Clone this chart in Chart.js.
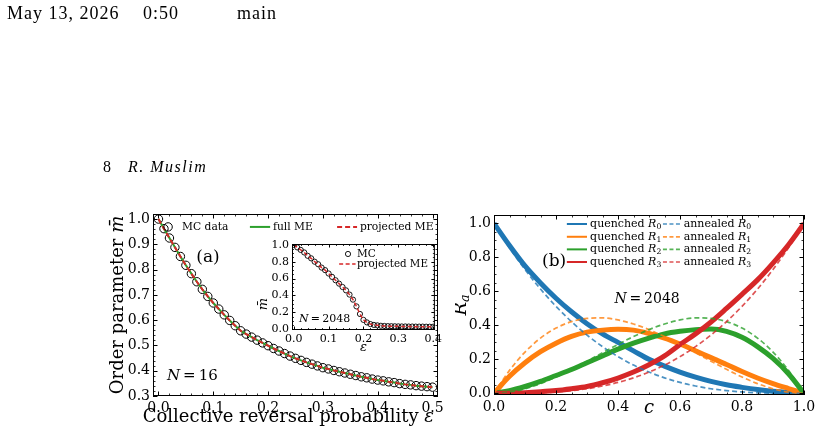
<!DOCTYPE html>
<html>
<head>
<meta charset="utf-8">
<script src="https://cdn.jsdelivr.net/npm/chart.js@4.4.1/dist/chart.umd.min.js"></script>
<style>
  html, body { margin: 0; padding: 0; background: #fff; }
  body { width: 821px; height: 435px; position: relative; overflow: hidden; }
  canvas { position: absolute; }
  .hdr { position: absolute; font-family: 'Liberation Serif', serif; color: #000; white-space: pre; line-height: 18px; }
</style>
</head>
<body>
<canvas id="chartA" width="455" height="435" style="left:0;top:0"></canvas>
<canvas id="inset" width="205" height="130" style="left:240px;top:230px"></canvas>
<canvas id="chartB" width="366" height="435" style="left:455px;top:0"></canvas>
<div class="hdr" style="left:7px;top:4px;font-size:18px;letter-spacing:1px">May 13, 2026</div>
<div class="hdr" style="left:143px;top:4px;font-size:18px;letter-spacing:1px">0:50</div>
<div class="hdr" style="left:237px;top:4px;font-size:18px;letter-spacing:1px">main</div>
<div class="hdr" style="left:103px;top:158px;font-size:16px">8</div>
<div class="hdr" style="left:128px;top:158px;font-size:16px;font-style:italic;letter-spacing:1.5px">R. Muslim</div>
<script>
// panel (a): N = 16
const epsA = [0.00, 0.01, 0.02, 0.03, 0.04, 0.05, 0.06, 0.07, 0.08, 0.09,
  0.10, 0.11, 0.12, 0.13, 0.14, 0.15, 0.16, 0.17, 0.18, 0.19,
  0.20, 0.21, 0.22, 0.23, 0.24, 0.25, 0.26, 0.27, 0.28, 0.29,
  0.30, 0.31, 0.32, 0.33, 0.34, 0.35, 0.36, 0.37, 0.38, 0.39,
  0.40, 0.41, 0.42, 0.43, 0.44, 0.45, 0.46, 0.47, 0.48, 0.49, 0.50];
const mcA = [1.000, 0.962, 0.925, 0.888, 0.852, 0.817, 0.784, 0.752, 0.722, 0.694,
  0.668, 0.644, 0.621, 0.599, 0.578, 0.558, 0.545, 0.533, 0.521, 0.510,
  0.499, 0.488, 0.478, 0.468, 0.458, 0.449, 0.441, 0.433, 0.426, 0.419,
  0.412, 0.407, 0.401, 0.396, 0.391, 0.386, 0.381, 0.376, 0.372, 0.367,
  0.363, 0.360, 0.356, 0.353, 0.349, 0.346, 0.344, 0.341, 0.339, 0.337, 0.335];
const meA = [1.000, 0.962, 0.925, 0.888, 0.852, 0.817, 0.784, 0.752, 0.722, 0.694,
  0.668, 0.644, 0.621, 0.599, 0.578, 0.558, 0.545, 0.533, 0.521, 0.510,
  0.499, 0.488, 0.478, 0.468, 0.458, 0.449, 0.441, 0.433, 0.426, 0.419,
  0.412, 0.407, 0.401, 0.396, 0.391, 0.386, 0.381, 0.376, 0.372, 0.367,
  0.363, 0.360, 0.356, 0.353, 0.349, 0.346, 0.344, 0.341, 0.339, 0.337, 0.335];
const xTicksA = [0.0, 0.1, 0.2, 0.3, 0.4, 0.5];
const yTicksA = [0.3, 0.4, 0.5, 0.6, 0.7, 0.8, 0.9, 1.0];

// inset: N = 2048
const epsIn = [0.00, 0.01, 0.02, 0.03, 0.04, 0.05, 0.06, 0.07, 0.08, 0.09,
  0.10, 0.11, 0.12, 0.13, 0.14, 0.15, 0.16, 0.17, 0.18, 0.19,
  0.20, 0.21, 0.22, 0.23, 0.24, 0.25, 0.26, 0.27, 0.28, 0.29,
  0.30, 0.31, 0.32, 0.33, 0.34, 0.35, 0.36, 0.37, 0.38, 0.39, 0.40];
const mcIn = [1.00, 0.97, 0.94, 0.91, 0.87, 0.84, 0.80, 0.77, 0.73, 0.70,
  0.66, 0.62, 0.58, 0.54, 0.50, 0.46, 0.41, 0.35, 0.27, 0.18,
  0.11, 0.08, 0.06, 0.05, 0.045, 0.040, 0.038, 0.036, 0.035, 0.034,
  0.033, 0.032, 0.032, 0.031, 0.031, 0.030, 0.030, 0.030, 0.029, 0.029, 0.029];
const meIn = [1.00, 0.97, 0.94, 0.91, 0.87, 0.84, 0.80, 0.77, 0.73, 0.70,
  0.66, 0.62, 0.58, 0.54, 0.50, 0.46, 0.41, 0.35, 0.27, 0.18,
  0.11, 0.08, 0.06, 0.05, 0.045, 0.040, 0.038, 0.036, 0.035, 0.034,
  0.033, 0.032, 0.032, 0.031, 0.031, 0.030, 0.030, 0.030, 0.029, 0.029, 0.029];
const xTicksIn = [0.0, 0.1, 0.2, 0.3, 0.4];
const yTicksIn = [0.0, 0.2, 0.4, 0.6, 0.8, 1.0];

// panel (b): R_a vs c, N = 2048
const cB = [0.00, 0.05, 0.10, 0.15, 0.20, 0.25, 0.30, 0.35, 0.40, 0.45, 0.50,
  0.55, 0.60, 0.65, 0.70, 0.75, 0.80, 0.85, 0.90, 0.95, 1.00];
const quenchedR0 = [1.00, 0.87, 0.75, 0.65, 0.56, 0.48, 0.41, 0.35, 0.30, 0.25, 0.20,
  0.16, 0.125, 0.095, 0.07, 0.05, 0.035, 0.022, 0.012, 0.005, 0.0];
const quenchedR1 = [0.0, 0.10, 0.18, 0.245, 0.295, 0.335, 0.36, 0.372, 0.377, 0.372, 0.352,
  0.325, 0.29, 0.25, 0.21, 0.17, 0.128, 0.09, 0.057, 0.028, 0.0];
const quenchedR2 = [0.0, 0.015, 0.04, 0.07, 0.105, 0.14, 0.18, 0.22, 0.26, 0.295, 0.325,
  0.35, 0.365, 0.375, 0.378, 0.365, 0.33, 0.275, 0.205, 0.115, 0.0];
const quenchedR3 = [0.0, 0.001, 0.004, 0.009, 0.016, 0.027, 0.04, 0.062, 0.09, 0.125, 0.168,
  0.22, 0.287, 0.35, 0.42, 0.50, 0.583, 0.668, 0.767, 0.875, 1.0];
const annealedR0 = [1.000, 0.857, 0.729, 0.614, 0.512, 0.422, 0.343, 0.275, 0.216, 0.166, 0.125,
  0.091, 0.064, 0.043, 0.027, 0.016, 0.008, 0.003, 0.001, 0.000, 0.000];
const annealedR1 = [0.000, 0.135, 0.243, 0.325, 0.384, 0.422, 0.441, 0.444, 0.432, 0.408, 0.375,
  0.334, 0.288, 0.239, 0.189, 0.141, 0.096, 0.057, 0.027, 0.007, 0.000];
const annealedR2 = [0.000, 0.007, 0.027, 0.057, 0.096, 0.141, 0.189, 0.239, 0.288, 0.334, 0.375,
  0.408, 0.432, 0.444, 0.441, 0.422, 0.384, 0.325, 0.243, 0.135, 0.000];
const annealedR3 = [0.000, 0.000, 0.001, 0.003, 0.008, 0.016, 0.027, 0.043, 0.064, 0.091, 0.125,
  0.166, 0.216, 0.275, 0.343, 0.422, 0.512, 0.614, 0.729, 0.857, 1.000];
const xTicksB = [0.0, 0.2, 0.4, 0.6, 0.8, 1.0];
const yTicksB = [0.0, 0.2, 0.4, 0.6, 0.8, 1.0];

const C0 = '#1f77b4', C1 = '#ff7f0e', C2 = '#2ca02c', C3 = '#d62728';
const C0a = 'rgba(31,119,180,0.8)', C1a = 'rgba(255,127,14,0.8)', C2a = 'rgba(44,160,44,0.8)', C3a = 'rgba(214,39,40,0.8)';
const SERIF = "'DejaVu Serif', serif";

Chart.defaults.font.family = SERIF;
Chart.defaults.color = '#000';

const pts = (xs, ys) => xs.map((x, i) => ({ x, y: ys[i] }));

// text made of runs: plain, italic, subscript
function drawRuns(ctx, x, y, runs, size, align) {
  const parts = runs.map((r) => {
    const s = r.sub ? size * 0.7 : size;
    const font = `${r.it ? 'italic ' : ''}${s}px ${SERIF}`;
    ctx.font = font;
    return { r, font, w: ctx.measureText(r.t).width, dy: r.sub ? size * 0.25 : 0 };
  });
  const total = parts.reduce((acc, p) => acc + p.w, 0);
  let cx = align === 'center' ? x - total / 2 : (align === 'right' ? x - total : x);
  ctx.textAlign = 'left';
  ctx.textBaseline = 'middle';
  parts.forEach((p) => {
    ctx.font = p.font;
    ctx.fillText(p.r.t, cx, y + p.dy);
    cx += p.w;
  });
}

// box, inward ticks on all four sides, texts and legend inside the axes
const axesDeco = {
  id: 'axesDeco',
  beforeDraw(chart, args, opts) {
    if (!opts.fill) return;
    const a = chart.chartArea;
    chart.ctx.save();
    chart.ctx.fillStyle = '#fff';
    chart.ctx.fillRect(a.left, a.top, a.right - a.left, a.bottom - a.top);
    chart.ctx.restore();
  },
  afterDraw(chart, args, opts) {
    const { ctx, chartArea: a, scales } = chart;
    const fx = (f) => a.left + f * (a.right - a.left);
    const fy = (f) => a.bottom - f * (a.bottom - a.top);
    ctx.save();
    ctx.strokeStyle = '#000';
    ctx.lineWidth = 1;
    ctx.strokeRect(a.left + 0.5, a.top + 0.5, a.right - a.left - 1, a.bottom - a.top - 1);

    const tickSet = (scale, nMinor) => {
      const vals = scale.ticks.map((t) => t.value);
      const step = vals[1] - vals[0];
      const minors = [];
      for (let i = -1; i < vals.length; i++) {
        const base = vals[0] + i * step;
        for (let k = 1; k < nMinor; k++) minors.push(base + (k * step) / nMinor);
      }
      return { major: vals, minor: minors.filter((v) => v > scale.min && v < scale.max) };
    };
    const drawX = (vals, len) => vals.forEach((v) => {
      const p = Math.round(scales.x.getPixelForValue(v)) + 0.5;
      ctx.beginPath();
      ctx.moveTo(p, a.bottom); ctx.lineTo(p, a.bottom - len);
      ctx.moveTo(p, a.top); ctx.lineTo(p, a.top + len);
      ctx.stroke();
    });
    const drawY = (vals, len) => vals.forEach((v) => {
      const p = Math.round(scales.y.getPixelForValue(v)) + 0.5;
      ctx.beginPath();
      ctx.moveTo(a.left, p); ctx.lineTo(a.left + len, p);
      ctx.moveTo(a.right, p); ctx.lineTo(a.right - len, p);
      ctx.stroke();
    });
    const tx = tickSet(scales.x, opts.minorX);
    const ty = tickSet(scales.y, opts.minorY);
    ctx.lineWidth = 1;
    drawX(tx.major, opts.major); drawY(ty.major, opts.major);
    ctx.lineWidth = 0.8;
    drawX(tx.minor, opts.minor); drawY(ty.minor, opts.minor);

    (opts.marks || []).forEach((m) => {
      ctx.save();
      ctx.strokeStyle = m.color;
      ctx.lineWidth = m.width;
      ctx.setLineDash(m.dash || []);
      ctx.beginPath();
      if (m.circle) {
        ctx.arc(fx(m.x0), fy(m.y), m.r, 0, Math.PI * 2);
      } else {
        ctx.moveTo(fx(m.x0), fy(m.y)); ctx.lineTo(fx(m.x1), fy(m.y));
      }
      ctx.stroke();
      ctx.restore();
    });

    ctx.fillStyle = '#000';
    (opts.texts || []).forEach((t) => {
      if (t.rot) {
        ctx.save();
        ctx.translate(fx(t.x), fy(t.y));
        ctx.rotate(-Math.PI / 2);
        drawRuns(ctx, 0, 0, t.runs, t.size, 'center');
        ctx.restore();
      } else {
        drawRuns(ctx, fx(t.x), fy(t.y), t.runs, t.size, t.align || 'left');
      }
    });
    ctx.restore();
  },
};

function axis(min, max, ticks, fontSize, padding, fitKey, fitSize) {
  return {
    type: 'linear',
    min, max,
    afterBuildTicks: (s) => { s.ticks = ticks.map((v) => ({ value: v })); },
    afterFit: (s) => { s[fitKey] = fitSize; },
    grid: { display: false, drawTicks: false },
    border: { display: false },
    ticks: {
      font: { size: fontSize, family: SERIF },
      color: '#000',
      padding,
      maxRotation: 0,
      autoSkip: false,
      callback: (v) => Number(v).toFixed(1),
    },
  };
}

const baseOpts = {
  responsive: false,
  animation: false,
  devicePixelRatio: 1,
  events: [],
};

// panel (a)
new Chart(document.getElementById('chartA'), {
  type: 'scatter',
  data: {
    datasets: [
      {
        label: 'MC data', data: pts(epsA, mcA), showLine: false,
        pointRadius: 4.2, pointBorderWidth: 1, pointBorderColor: '#000',
        pointBackgroundColor: 'rgba(0,0,0,0)', order: 3,
      },
      {
        label: 'full ME', data: pts(epsA, meA), showLine: true,
        borderColor: C2, borderWidth: 2, pointRadius: 0, order: 2,
      },
      {
        label: 'projected ME', data: pts(epsA, meA), showLine: true,
        borderColor: C3, borderWidth: 2, borderDash: [5, 3], pointRadius: 0, order: 1,
      },
    ],
  },
  options: {
    ...baseOpts,
    layout: { padding: { top: 214, right: 17, left: 0, bottom: 0 } },
    scales: {
      x: axis(-0.01, 0.51, xTicksA, 14, 4, 'height', 39),
      y: axis(0.3, 1.02, yTicksA, 14, 3, 'width', 153),
    },
    plugins: {
      legend: { display: false },
      tooltip: { enabled: false },
      axesDeco: {
        major: 4.5, minor: 2.5, minorX: 5, minorY: 5,
        marks: [
          { circle: true, x0: 0.053, y: 0.929, r: 4.2, color: '#000', width: 1 },
          { x0: 0.34, x1: 0.411, y: 0.929, color: C2, width: 2 },
          { x0: 0.646, x1: 0.716, y: 0.929, color: C3, width: 2, dash: [5, 3] },
        ],
        texts: [
          { x: 0.102, y: 0.929, size: 10.7, runs: [{ t: 'MC data' }] },
          { x: 0.421, y: 0.929, size: 10.7, runs: [{ t: 'full ME' }] },
          { x: 0.726, y: 0.929, size: 10.7, runs: [{ t: 'projected ME' }] },
          { x: 0.193, y: 0.758, size: 17, align: 'center', runs: [{ t: '(a)' }] },
          { x: 0.049, y: 0.11, size: 15, runs: [{ t: 'N', it: true }, { t: '\u2009=\u200916' }] },
          { x: 0.475, y: -0.115, size: 18, align: 'center', runs: [{ t: 'Collective reversal probability ' }, { t: '\u03b5', it: true }] },
          { x: -0.123, y: 0.5, size: 18, rot: true, runs: [{ t: 'Order parameter ' }, { t: 'm\u0304', it: true }] },
        ],
      },
    },
  },
  plugins: [axesDeco],
});

// inset of panel (a)
new Chart(document.getElementById('inset'), {
  type: 'scatter',
  data: {
    datasets: [
      {
        label: 'MC', data: pts(epsIn, mcIn), showLine: false,
        pointRadius: 2.6, pointBorderWidth: 0.9, pointBorderColor: '#000',
        pointBackgroundColor: 'rgba(0,0,0,0)', order: 2,
      },
      {
        label: 'projected ME', data: pts(epsIn, meIn), showLine: true,
        borderColor: C3, borderWidth: 1.5, borderDash: [4, 2.5], pointRadius: 0, order: 1,
      },
    ],
  },
  options: {
    ...baseOpts,
    layout: { padding: { top: 14, right: 10, left: 0, bottom: 0 } },
    scales: {
      x: axis(-0.005, 0.405, xTicksIn, 11, 3, 'height', 30),
      y: axis(-0.01, 1.01, yTicksIn, 11, 3, 'width', 52),
    },
    plugins: {
      legend: { display: false },
      tooltip: { enabled: false },
      axesDeco: {
        fill: true, major: 3.5, minor: 2, minorX: 5, minorY: 4,
        marks: [
          { circle: true, x0: 0.392, y: 0.884, r: 2.6, color: '#000', width: 0.9 },
          { x0: 0.33, x1: 0.445, y: 0.767, color: C3, width: 1.5, dash: [4, 2.5] },
        ],
        texts: [
          { x: 0.455, y: 0.884, size: 10.5, runs: [{ t: 'MC' }] },
          { x: 0.455, y: 0.767, size: 10.3, runs: [{ t: 'projected ME' }] },
          { x: 0.049, y: 0.128, size: 11, runs: [{ t: 'N', it: true }, { t: '\u2009=\u20092048' }] },
          { x: 0.5, y: -0.21, size: 13, align: 'center', runs: [{ t: '\u03b5', it: true }] },
          { x: -0.196, y: 0.3, size: 13, rot: true, runs: [{ t: 'm\u0304', it: true }] },
        ],
      },
    },
  },
  plugins: [axesDeco],
});

// panel (b)
const quenched = [quenchedR0, quenchedR1, quenchedR2, quenchedR3];
const annealed = [annealedR0, annealedR1, annealedR2, annealedR3];
const solid = [C0, C1, C2, C3];
const light = [C0a, C1a, C2a, C3a];
const dsB = [];
quenched.forEach((ys, i) => dsB.push({
  label: `quenched R${i}`, data: pts(cB, ys), showLine: true,
  borderColor: solid[i], borderWidth: 5, pointRadius: 0,
  cubicInterpolationMode: 'monotone', order: 20 - i,
}));
annealed.forEach((ys, i) => dsB.push({
  label: `annealed R${i}`, data: pts(cB, ys), showLine: true,
  borderColor: light[i], borderWidth: 1.7, borderDash: [5, 3], pointRadius: 0,
  cubicInterpolationMode: 'monotone', order: 10 - i,
}));

const legendRows = [0.95, 0.879, 0.809, 0.739];
const marksB = [];
const textsB = [];
legendRows.forEach((y, i) => {
  marksB.push({ x0: 0.235, x1: 0.3, y, color: solid[i], width: 2 });
  marksB.push({ x0: 0.545, x1: 0.6, y, color: light[i], width: 1.7, dash: [4, 2.5] });
  textsB.push({ x: 0.31, y, size: 11, runs: [{ t: 'quenched ' }, { t: 'R', it: true }, { t: String(i), sub: true }] });
  textsB.push({ x: 0.612, y, size: 11, runs: [{ t: 'annealed ' }, { t: 'R', it: true }, { t: String(i), sub: true }] });
});
textsB.push({ x: 0.194, y: 0.739, size: 17, align: 'center', runs: [{ t: '(b)' }] });
textsB.push({ x: 0.494, y: 0.533, size: 14, align: 'center', runs: [{ t: 'N', it: true }, { t: '\u2009=\u20092048' }] });
textsB.push({ x: 0.5, y: -0.072, size: 18, align: 'center', runs: [{ t: 'c', it: true }] });
textsB.push({ x: -0.106, y: 0.5, size: 18, rot: true, runs: [{ t: 'R', it: true }, { t: 'a', it: true, sub: true }] });

new Chart(document.getElementById('chartB'), {
  type: 'scatter',
  data: { datasets: dsB },
  options: {
    ...baseOpts,
    layout: { padding: { top: 215, right: 17, left: 0, bottom: 0 } },
    scales: {
      x: axis(0, 1, xTicksB, 14, 4, 'height', 40),
      y: axis(-0.01, 1.05, yTicksB, 14, 3, 'width', 39),
    },
    plugins: {
      legend: { display: false },
      tooltip: { enabled: false },
      axesDeco: { major: 4.5, minor: 2.5, minorX: 4, minorY: 4, marks: marksB, texts: textsB },
    },
  },
  plugins: [axesDeco],
});
</script>
</body>
</html>
